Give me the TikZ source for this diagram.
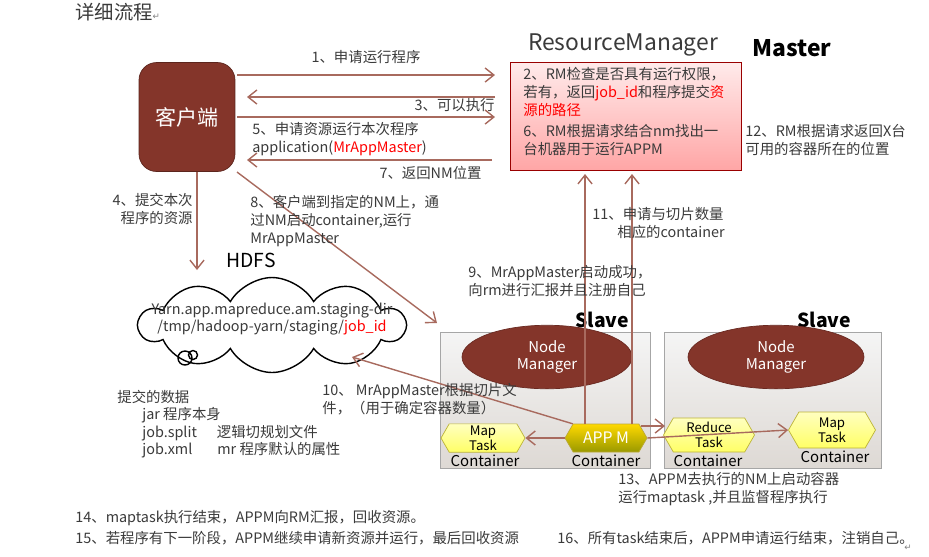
\documentclass[tikz,border=0pt]{standalone}
\usepackage{fontspec}
\setmainfont{Noto Sans CJK SC}
\newfontfamily\symfont{DejaVu Sans}
\usepackage{tikz}
\usetikzlibrary{arrows.meta}
\usetikzlibrary{shapes.geometric,shapes.symbols}
\definecolor{brn}{HTML}{84352A}
\definecolor{lnk}{HTML}{A86A5E}
\definecolor{txtc}{HTML}{3A3A3A}
\newcommand{\retmark}{\textcolor{gray}{\symfont\tiny ↵}}
\tikzset{
  arr/.style={lnk, line width=0.8pt, -{Straight Barb[length=5pt,width=8pt]}},
  txt/.style={anchor=west, align=left, text=txtc, font=\fontsize{8.2}{10}\selectfont, inner sep=0pt},
  hex/.style={signal, signal to=west and east, signal pointer angle=120, draw=#1!70!black, inner sep=1pt,
    top color=#1!25, bottom color=#1!60, font=\fontsize{7.5}{8.5}\selectfont, align=center, minimum height=0.56cm},
  slave/.style={draw=gray!70, top color=black!4, bottom color=brown!25!gray!30},
  nm/.style={ellipse, fill=brn, draw=brn!80!black, text=white, align=center, font=\fontsize{8.5}{10}\selectfont,
    minimum width=3.4cm, minimum height=0.88cm},
  cont/.style={font=\fontsize{8.5}{9}\selectfont, inner sep=0pt}
}
\begin{document}
\begin{tikzpicture}[x=0.02cm, y=-0.02cm]
        \useasboundingbox (0,0) rectangle (929,556);

        \node[anchor=west, font=\fontsize{11}{12}\selectfont, text=txtc, inner sep=0pt] (title) at (75,12) {详细流程\retmark};

        % client and resource manager
        \node[draw=brn!70!black, fill=brn, rounded corners=10pt, minimum width=1.92cm, minimum height=2.18cm,
          text=white, font=\fontsize{12}{13}\selectfont] (client) at (187,117) {客户端};
        \node[draw=red!60!black, top color=red!8, bottom color=red!35, minimum width=4.62cm, minimum height=2.16cm] (rm) at (625.5,116) {};
        \node[font=\fontsize{13}{14}\selectfont, text=txtc] (rmname) at (623,45) {ResourceManager};
        \node[font=\bfseries\fontsize{13}{14}\selectfont] (master) at (792,48) {Master};

        \node[txt] (t2) at (523,92) {2、RM检查是否具有运行权限，\\若有，返回\textcolor{red}{job\_id}和程序提交\textcolor{red}{资}\\\textcolor{red}{源的路径}};
        \node[txt] (t6) at (523,140) {6、RM根据请求结合nm找出一\\台机器用于运行APPM};
        \node[txt] (t12) at (745,140) {12、RM根据请求返回X台\\可用的容器所在的位置};

        \coordinate (c1a) at (237,75);  \coordinate (c1b) at (495,75);
        \coordinate (c3a) at (495,97);  \coordinate (c3b) at (247,97);
        \coordinate (c5a) at (237,117); \coordinate (c5b) at (495,117);
        \coordinate (c7a) at (492,160); \coordinate (c7b) at (247,160);
        \draw[arr] (c1a) -- (c1b) node[midway, above=6pt, txt, anchor=south] {1、申请运行程序};
        \draw[arr] (c3a) -- (c3b);
        \node[txt, anchor=east] (t3) at (495,105) {3、可以执行};
        \draw[arr] (c5a) -- (c5b);
        \node[txt] (t5) at (252,139) {5、申请资源运行本次程序\\application(\textcolor{red}{MrAppMaster})};
        \draw[arr] (c7a) -- (c7b);
        \node[txt, anchor=east] (t7) at (482,173) {7、返回NM位置};

        % hdfs
        \node[font=\fontsize{11}{12}\selectfont] (hdfs) at (251,260) {HDFS};
        \node[cloud, draw, line width=0.8pt, cloud puffs=10, cloud puff arc=120, aspect=2.8,
          minimum width=5.3cm, minimum height=1.9cm] (cloud) at (272,325) {};
        \node[align=center, font=\fontsize{8.2}{10}\selectfont, text=txtc] (path) at (272,319)
          {Yarn.app.mapreduce.am.staging-dir\\/tmp/hadoop-yarn/staging/\textcolor{red}{job\_id}};
        \draw[line width=0.8pt] (185,358) circle (7) (193,355) circle (4.5);

        \coordinate (c4a) at (197,172); \coordinate (c4b) at (197,270);
        \draw[arr] (c4a) -- (c4b);
        \node[txt, anchor=east, align=right] (t4) at (193,209) {4、提交本次\\程序的资源};

        \coordinate (c8a) at (237,172); \coordinate (c8b) at (437,323);
        \draw[arr] (c8a) -- (c8b);
        \node[txt] (t8) at (250,221) {8、客户端到指定的NM上，通\\过NM启动container,运行\\MrAppMaster};

        \node[txt] (tdata) at (117,424) {提交的数据\\\hspace*{5mm}jar 程序本身\\\hspace*{5mm}job.split\hspace{4mm}逻辑切规划文件\\\hspace*{5mm}job.xml\hspace{5mm}mr 程序默认的属性};

        % slaves
        \node[slave, minimum width=4.2cm, minimum height=2.72cm] (s1) at (545,400) {};
        \node[slave, minimum width=4.34cm, minimum height=2.72cm] (s2) at (772.5,400) {};
        \node[font=\bfseries\fontsize{11}{12}\selectfont] (sl1) at (602,320) {Slave};
        \node[font=\bfseries\fontsize{11}{12}\selectfont] (sl2) at (824,320) {Slave};
        \node[nm] (nm1) at (547,357) {Node\\Manager};
        \node[nm, minimum width=3.52cm] (nm2) at (776,357) {Node\\Manager};

        \node[hex=yellow, minimum width=1.68cm] (map1) at (483,438) {Map\\Task};
        \node[hex=yellow!80!orange, minimum width=1.64cm, text=white, font=\fontsize{9}{10}\selectfont,
          top color=yellow!70!orange, bottom color=yellow!60!black] (appm) at (606,438) {APP M};
        \node[hex=yellow, minimum width=1.82cm, minimum height=0.68cm] (red) at (709,435) {Reduce\\Task};
        \node[hex=yellow, minimum width=1.74cm, minimum height=0.72cm] (map2) at (832,430) {Map\\Task};
        \node[cont] (k1) at (485,461) {Container};
        \node[cont] (k2) at (606,461) {Container};
        \node[cont] (k3) at (708,461) {Container};
        \node[cont] (k4) at (835,457) {Container};

        \coordinate (c9) at (585,424); \coordinate (c9b) at (585,174);
        \coordinate (c11) at (632,424); \coordinate (c11b) at (632,174);
        \draw[arr] (c9) -- (c9b);
        \draw[arr] (c11) -- (c11b);
        \node[txt] (t11) at (592,223) {11、申请与切片数量\\\hspace*{5mm}相应的container};
        \node[txt] (t9) at (468,281) {9、MrAppMaster启动成功，\\向rm进行汇报并且注册自己};

        \coordinate (c10b) at (352,357);
        \draw[arr] (appm.north west) -- (c10b);
        \node[txt] (t10) at (322,399) {10、 MrAppMaster根据切片文\\件，（用于确定容器数量）};

        \draw[arr] (appm.west) -- (map1.east);
        \coordinate (c13a) at (641,426); \coordinate (c13b) at (665,426);
        \draw[arr] (c13a) -- (c13b);
        \draw[arr] (appm.east) -- (map2.west);
        \node[txt] (t13) at (618,489) {13、APPM去执行的NM上启动容器\\运行maptask ,并且监督程序执行};

        \node[txt] (t14) at (75,518) {14、maptask执行结束，APPM向RM汇报，回收资源。};
        \node[txt] (t15) at (75,538) {15、若程序有下一阶段，APPM继续申请新资源并运行，最后回收资源};
        \node[txt] (t16) at (557,538) {16、所有task结束后，APPM申请运行结束，注销自己。};
        \node[inner sep=0pt] (ret) at (908,548) {\retmark};
\end{tikzpicture}
\end{document}
